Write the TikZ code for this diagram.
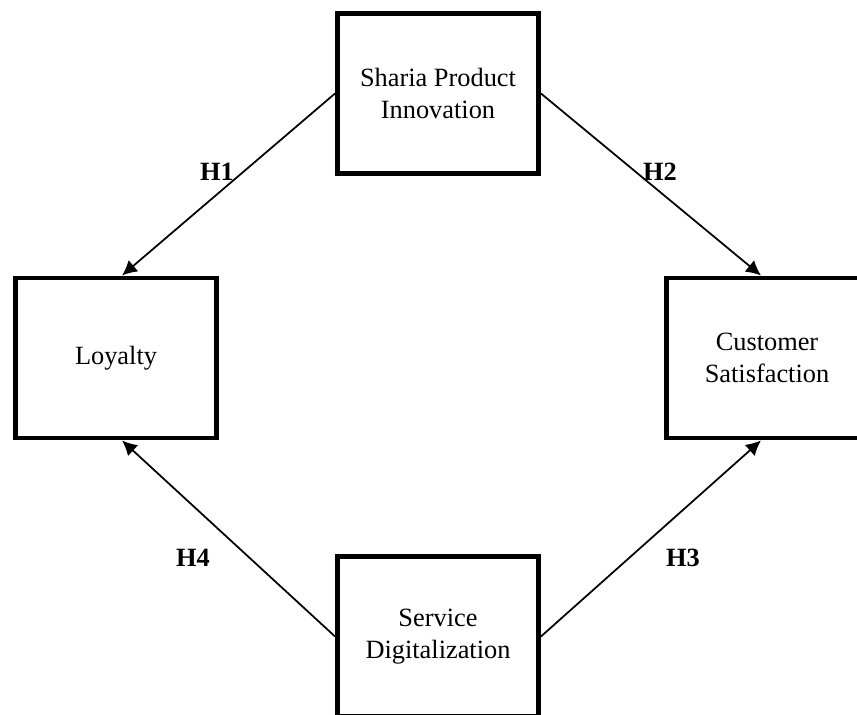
\documentclass[tikz,border=0pt]{standalone}
\usepackage{fontspec}
\setmainfont{Liberation Serif}
\usepackage{tikz}
\usetikzlibrary{arrows.meta}

\begin{document}
\begin{tikzpicture}[
    box/.style={draw,line width=2.8pt,minimum width=4.02cm,minimum height=3.2cm,align=center,font=\fontsize{15}{18.5}\selectfont},
    hyp/.style={-{Latex[length=8.5pt,width=8.5pt]},line width=1pt},
    lbl/.style={font=\fontsize{15}{18.5}\selectfont\bfseries}]
  \clip (0,0) rectangle (17.14,14.3);
  \def\dx{0.12}
  % the four constructs
  \node[box] (spi) at (8.76,12.43) {Sharia Product\\Innovation};
  \node[box] (loy) at (2.32,7.14) {Loyalty};
  \node[box] (cs) at (15.34,7.14) {Customer\\Satisfaction};
  \node[box] (sd) at (8.76,1.57) {Service\\Digitalization};
  % hypotheses
  \draw[hyp] (spi.west) -- ([xshift=\dx cm]loy.north);
  \draw[hyp] (spi.east) -- ([xshift=-\dx cm]cs.north);
  \draw[hyp] (sd.east) -- ([xshift=-\dx cm]cs.south);
  \draw[hyp] (sd.west) -- ([xshift=\dx cm]loy.south);
  \node[lbl] (h1) at (4.34,10.86) {H1};
  \node[lbl] (h2) at (13.2,10.86) {H2};
  \node[lbl] (h3) at (13.66,3.14) {H3};
  \node[lbl] (h4) at (3.86,3.14) {H4};
\end{tikzpicture}
\end{document}
